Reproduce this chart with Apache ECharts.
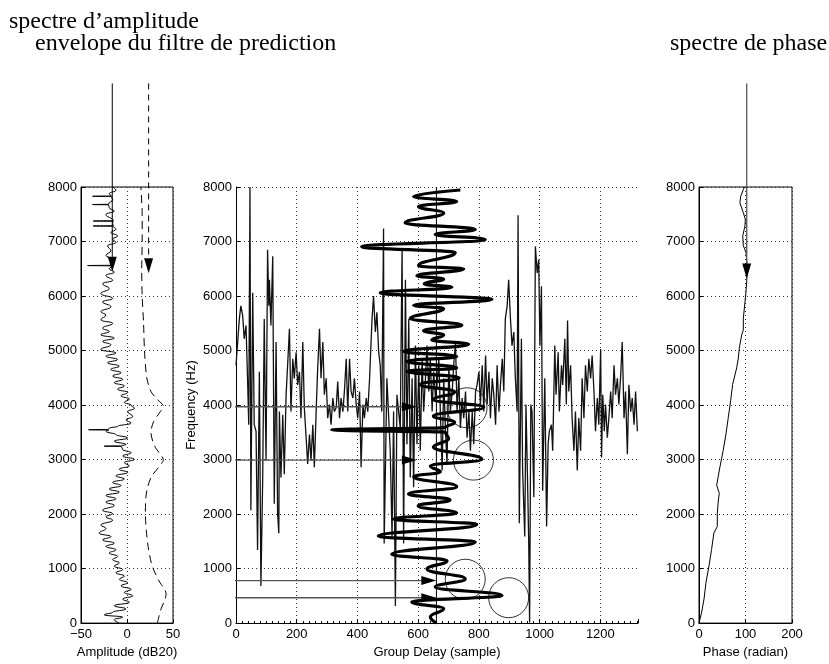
<!DOCTYPE html>
<html lang="fr">
<head>
<meta charset="UTF-8">
<title>Spectres et retard de groupe</title>
<script src="https://cdn.jsdelivr.net/npm/echarts@6/dist/echarts.min.js"></script>
<style>
  html, body { margin: 0; padding: 0; background: #fff; }
  #main { width: 829px; height: 664px; }
</style>
</head>
<body>
<div id="main"></div>
<script>
// ---- left panel: amplitude spectrum (dB20) vs frequency (Hz)
var ampFreq = [0,66,109,151,199,259,320,380,440,501,561,621,682,742,802,863,923,983,1044,1104,1164,1225,1285,1345,1406,1466,1526,1587,1647,1738,1798,1888,1949,2009,2069,2160,2220,2280,2341,2401,2461,2522,2582,2642,2703,2763,2823,2884,2944,3004,3065,3125,3185,3240,3246,3252,3276,3336,3397,3457,3517,3540,3547,3554,3578,3608,3668,3728,3789,3879,3940,4000,4048,4109,4169,4230,4290,4351,4411,4472,4532,4593,4653,4714,4774,4835,4895,4956,5016,5107,5168,5228,5289,5349,5410,5500,5561,5652,5712,5803,5894,5954,6045,6136,6226,6287,6378,6438,6499,6553,6559,6565,6620,6680,6741,6831,6922,6983,7043,7104,7164,7225,7280,7285,7290,7346,7370,7376,7382,7497,7557,7618,7672,7678,7684,7769,7824,7830,7836,7878,7939,8000];
var ampLevel = [-8.4,-13.8,-4.7,-24.7,-15.6,-1.1,-13.8,2.5,-4.7,6.2,-2.9,4.4,-6.5,0.7,-8.4,-2.9,-12,-4.7,-13.8,-8.4,-15.6,-10.2,-19.3,-12,-22.9,-13.8,-26.5,-17.5,-30.2,-22.9,-28.4,-15.6,-22.9,-15.6,-26.5,-13.8,-22.9,-12,-22.9,-8.4,-19.3,-6.5,-15.6,-2.9,-12,0.7,-8.4,2.5,-2.9,8,-4.7,4.4,-4.7,-6,-24.7,-6,-1.1,-13.8,0.7,-12,-22.9,-20,-41.8,-20,-19.3,-10.2,4.4,-1.1,6.2,0.7,8,4.4,-2.9,2.5,-6.5,0.7,-10.2,-2.9,-13.8,-4.7,-15.6,-6.5,-17.5,-8.4,-21.1,-10.2,-22.9,-12,-28.4,-17.5,-26.5,-13.8,-28.4,-19.3,-26.5,-15.6,-28.4,-22.9,-28.4,-17.5,-26.5,-15.6,-28.4,-19.3,-26.5,-15.6,-22.9,-13.8,-19.3,-16,-42.9,-16,-15.6,-16.4,-22.9,-17.5,-21.1,-12,-15.6,-10.2,-17.5,-12,-15,-36.7,-15,-15.6,-15,-36.7,-15,-22.9,-13.8,-19.3,-20,-37.5,-20,-15.6,-17,-37.5,-17,-19.3,-12,-15.6];

// prediction filter envelope (dashed)
var envFreq = [0,260,420,530,620,740,900,1100,1400,1700,2000,2300,2500,2700,2850,3000,3100,3250,3500,3700,3850,3980,4100,4250,4500,5000,5500,6000,6500,7000,7500,8000];
var envLevel = [33,37,41,42.5,41,36,31,26.5,23,21,20,20.5,22.5,27,34,39.5,36,30,26,29,35,39.5,33,26,21.5,19,18,16.5,16,16.5,16.5,15];

// ---- middle panel: group delay (sample) vs frequency
var gdDelay = [0,11,16,22,27,33,38,42,46,49,55,60,66,71,77,82,88,93,99,104,108,110,115,121,126,132,137,141,143,148,154,159,165,170,176,181,187,192,198,203,209,214,220,225,231,236,242,247,253,258,264,269,275,280,286,291,297,302,308,313,319,324,330,335,341,346,352,357,363,368,374,379,385,390,396,401,407,412,418,423,429,434,440,
  448,453,459,464,470,475,480,486,488,497,508,514,519,525,530,541,547,552,558,563,569,574,580,585,591,596,602,607,613,618,624,629,635,640,646,651,657,662,668,673,679,684,690,695,701,706,712,717,723,728,734,739,745,750,756,761,767,772,778,783,789,794,800,805,811,816,822,827,833,838,844,849,855,860,866,871,877,882,
  887,893,898,904,909,915,920,926,929,933,940,944,951,955,960,964,967,971,975,981,986,992,997,1001,1006,1010,1017,1023,1028,1032,1039,1043,1050,1054,1061,1065,1072,1076,1083,1088,1092,1096,1102,1107,1113,1118,1124,1129,1135,1140,1146,1151,1157,1162,1168,1173,1179,1184,1190,1195,1201,1204,1208,1213,1217,1223,1228,1234,1239,1245,1250,1256,1261,1267,1272,1278,1283,1289,1294,1300,1305,1311,1316,1322];
var gdFreq = [4730,5580,5820,5640,5215,5460,4490,3640,8000,2070,6060,3640,3520,1340,4610,680,2670,5580,2980,6850,5820,6300,5460,6730,2190,5155,2010,1650,3880,2670,3820,2730,4190,4730,5400,3880,4850,4490,4970,4370,4610,3760,5155,3950,3400,2920,3460,2980,3640,2860,3880,4670,5400,4490,5155,4190,4490,3760,4010,3640,4130,3880,3950,4430,3760,4130,3880,4250,4850,3880,4850,4250,4130,4490,4010,3760,4250,2860,4010,3760,4130,3880,4490,
  5580,6000,5340,5700,4970,4730,3880,7240,1460,4490,3160,1590,3880,315,4190,3580,6880,1460,6300,3280,5580,2670,4490,2490,5090,3280,4730,3160,4850,3880,4490,5090,4250,4850,3880,4610,4130,4370,4850,3880,2800,4490,3520,2920,4730,3880,4250,4730,5155,3880,4490,3580,4130,3760,4250,3400,3880,3160,3880,3280,4250,4370,4610,4010,4730,3880,4910,4010,4610,3760,4490,4190,3640,4730,3880,4370,4850,4250,
  5580,5820,6300,5580,5090,5340,4490,3880,7480,1830,5215,2800,1590,4010,2670,1525,10,4010,3880,2310,6910,6425,6670,5090,6180,2430,4490,1770,3280,3520,3640,3160,5090,4190,4970,3880,4730,4370,5215,4010,5550,4250,4730,3760,3160,3880,2800,3760,3160,4490,3760,4730,4250,4850,4490,4910,4250,3520,4130,3640,5030,3040,4190,3520,4010,3400,3760,4250,3760,4730,4190,4490,4010,4550,5155,3760,4250,3100,4370,3880,4130,3640,4250,3520];

// thick curve: prediction filter group delay
var filtFreq = [0,115,266,387,508,660,810,992,1143,1264,1487,1596,1808,1910,2020,2150,2260,2370,2503,2685,2775,2880,3005,3229,3380,3500,3545,3590,3680,3800,3960,4100,4240,4378,4499,4620,4680,4801,4892,4983,5115,5194,5285,5364,5466,5587,5769,5829,5938,6059,6162,6222,6313,6373,6494,6554,6797,6906,7038,7129,7220,7341,7522,7643,7733,7824,7945];
var filtDelay = [660,640,684,579,876,656,755,629,695,513,788,469,793,519,727,600,705,568,727,585,673,640,810,650,700,690,315,690,720,650,816,650,720,607,735,563,727,563,727,552,766,645,684,618,744,574,684,585,843,475,711,620,684,596,750,601,722,414,821,656,788,557,684,601,727,585,739];

var meanDelay = 660;
var circleDelay = [761, 782, 755, 898];
var circleFreq = [3950, 2990, 805, 466];

// horizontal arrows: start, head centre, frequency
var hArrowFrom = [-227, -227, -165, -165];
var hArrowHead = [571, 571, 635, 635];
var hArrowFreq = [3970, 2990, 780, 466];

// ---- right panel: phase (radian) vs frequency
var phaseFreq = [0,200,442,745,1048,1350,1653,1774,2017,2259,2380,2531,2864,3167,3470,3773,4076,4379,4681,4863,5045,5287,5378,5590,5893,6074,6256,6498,6801,6922,7104,7285,7407,7528,7709,7830,7951,8000];
var phaseVal = [0,5.7,10.8,15,21.5,27,32,39.4,39.4,41.6,43.7,38,45,52,58,63,68,72.4,81,84.6,86.7,91.8,95.3,95.3,98.9,101,102.5,104,101,95.3,94,98.9,99.6,95.3,88,89.6,95.3,97.5];

// vertical arrows from the captions
var vArrowTop = 9900;
var ampArrowLevel = -16, ampArrowHead = 6585;
var envArrowLevel = 23.5, envArrowHead = 6554;
var phaseArrowVal = 102.6, phaseArrowHead = 6458;

function zip(xs, ys) {
  var out = [];
  for (var i = 0; i < Math.min(xs.length, ys.length); i++) out.push([xs[i], ys[i]]);
  return out;
}

var sansFont = 'Liberation Sans';
var dotted = { color: '#333', width: 1, type: [1, 3] };

function xAx(idx, min, max, interval, name, extra) {
  var a = {
    type: 'value', gridIndex: idx, min: min, max: max, interval: interval,
    name: name, nameLocation: 'middle', nameGap: 22,
    nameTextStyle: { color: '#000', fontFamily: sansFont, fontSize: 13 },
    axisLine: { show: true, onZero: false, lineStyle: { color: '#000', width: 1 } },
    axisTick: { show: true, inside: true, length: 4, lineStyle: { color: '#000' } },
    axisLabel: { color: '#000', fontFamily: sansFont, fontSize: 13, margin: 5,
      formatter: function (v) {
        if (v % interval !== 0) return '';
        return String(v).replace('-', '\u2212');
      } },
    splitLine: { show: true, lineStyle: dotted }
  };
  return Object.assign(a, extra || {});
}

function yAx(idx, extra) {
  var a = {
    type: 'value', gridIndex: idx, min: 0, max: 8000, interval: 1000,
    axisLine: { show: true, onZero: false, lineStyle: { color: '#000', width: 1 } },
    axisTick: { show: true, inside: true, length: 4, lineStyle: { color: '#000' } },
    axisLabel: { color: '#000', fontFamily: sansFont, fontSize: 13, margin: 4,
      formatter: function (v) { return String(v); } },
    splitLine: { show: true, lineStyle: dotted }
  };
  return Object.assign(a, extra || {});
}

function arrowSeries(xi, pts, rotate, color, width, dash) {
  return {
    type: 'line', xAxisIndex: xi, yAxisIndex: xi, clip: false, silent: true,
    symbol: 'none', showSymbol: true, z: 5,
    lineStyle: { color: color, width: width, type: dash || 'solid' },
    itemStyle: { color: '#000' },
    data: [
      pts[0],
      { value: pts[1], symbol: 'triangle', symbolSize: [9, 15], symbolRotate: rotate }
    ]
  };
}

var series = [
  { type: 'line', xAxisIndex: 0, yAxisIndex: 0, symbol: 'none', smooth: 0.5, smoothMonotone: 'y',
    lineStyle: { color: '#000', width: 1 }, data: zip(ampLevel, ampFreq) },
  { type: 'line', xAxisIndex: 0, yAxisIndex: 0, symbol: 'none', smooth: 0.3,
    lineStyle: { color: '#000', width: 1, type: [8, 5] }, data: zip(envLevel, envFreq) },
  { type: 'line', xAxisIndex: 1, yAxisIndex: 1, symbol: 'none',
    lineStyle: { color: '#111', width: 1.3 }, data: zip(gdDelay, gdFreq) },
  { type: 'line', xAxisIndex: 1, yAxisIndex: 1, symbol: 'none', smooth: 0.45, smoothMonotone: 'y',
    lineStyle: { color: '#000', width: 3.2 }, data: zip(filtDelay, filtFreq) },
  { type: 'line', xAxisIndex: 1, yAxisIndex: 1, symbol: 'none',
    lineStyle: { color: '#000', width: 1 }, data: [[meanDelay, 0], [meanDelay, 8000]] },
  { type: 'scatter', xAxisIndex: 1, yAxisIndex: 1, symbol: 'circle', symbolSize: 40,
    itemStyle: { color: 'rgba(0,0,0,0)', borderColor: '#000', borderWidth: 1 },
    data: zip(circleDelay, circleFreq) },
  { type: 'line', xAxisIndex: 2, yAxisIndex: 2, symbol: 'none',
    lineStyle: { color: '#000', width: 1 }, data: zip(phaseVal, phaseFreq) },
  arrowSeries(0, [[ampArrowLevel, vArrowTop], [ampArrowLevel, ampArrowHead]], 180, '#000', 1),
  arrowSeries(0, [[envArrowLevel, vArrowTop], [envArrowLevel, envArrowHead]], 180, '#000', 1, [6, 5]),
  arrowSeries(2, [[phaseArrowVal, vArrowTop], [phaseArrowVal, phaseArrowHead]], 180, '#555', 1.3)
];
for (var i = 0; i < hArrowFreq.length; i++) {
  series.push(arrowSeries(1, [[hArrowFrom[i], hArrowFreq[i]], [hArrowHead[i], hArrowFreq[i]]], -90, '#555', 1.4));
}

var serif = { fontFamily: 'Liberation Serif', fontSize: 24, fontWeight: 'normal', color: '#000' };

var chart = echarts.init(document.getElementById('main'));
chart.setOption({
  animation: false,
  backgroundColor: '#fff',
  title: [
    { text: 'spectre d\u2019amplitude', left: 9, top: 10, padding: 0, textStyle: serif },
    { text: 'envelope du filtre de prediction', left: 35, top: 32, padding: 0, textStyle: serif },
    { text: 'spectre de phase', left: 670, top: 32, padding: 0, textStyle: serif }
  ],
  grid: [
    { left: 81, top: 187, width: 92, height: 441, show: true, borderColor: '#000', borderWidth: 1, backgroundColor: 'transparent' },
    { left: 236, top: 187, width: 402, height: 441 },
    { left: 699, top: 187, width: 93, height: 441, show: true, borderColor: '#000', borderWidth: 1, backgroundColor: 'transparent' }
  ],
  xAxis: [
    xAx(0, -50, 50, 50, 'Amplitude (dB20)'),
    xAx(1, 0, 1324, 200, 'Group Delay (sample)', {
      minorTick: { show: true, splitNumber: 10, length: 2, lineStyle: { color: '#000' } },
      splitLine: { show: true, showMaxLine: false, lineStyle: dotted }
    }),
    xAx(2, 0, 200, 100, 'Phase (radian)')
  ],
  yAxis: [
    yAx(0),
    yAx(1, { name: 'Frequency (Hz)', nameLocation: 'middle', nameGap: 38, nameRotate: 90,
      nameTextStyle: { color: '#000', fontFamily: sansFont, fontSize: 13 } }),
    yAx(2)
  ],
  series: series
});
</script>
</body>
</html>
